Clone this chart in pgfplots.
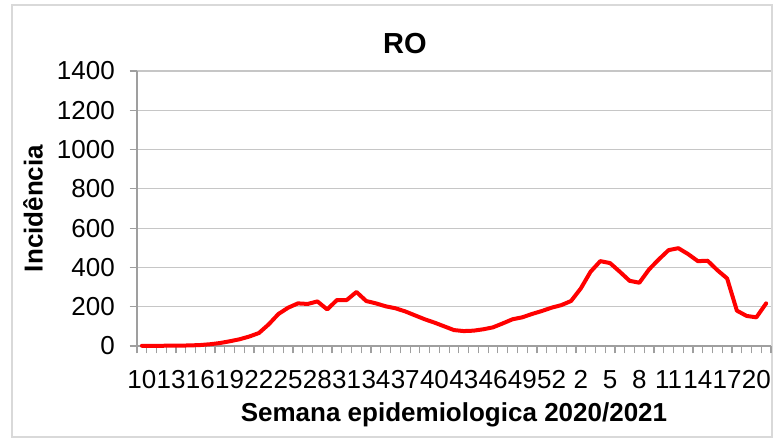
\documentclass[border=0pt]{standalone}
\usepackage{fontspec}
\setmainfont{Liberation Sans}
\usepackage{pgfplots}
\pgfplotsset{compat=1.18}
\begin{document}
\begin{tikzpicture}
\path (-102.75pt,-71.25pt) rectangle (477.75pt,259.5pt);
\draw[gray!30, line width=1.5pt] (-93.75pt,-68.25pt) rectangle (476.25pt,255.75pt);
\begin{axis}[
  at={(0,0)}, anchor=south west,
  scale only axis, width=475.5pt, height=206.25pt,
  xmin=-0.5, xmax=64.5, ymin=0, ymax=1400,
  axis x line*=bottom, axis y line*=left,
  axis line style={draw=gray!75, line width=0.9pt, -},
  tick align=outside,
  major tick length=5.5pt,
  minor tick length=5.5pt,
  tick style={draw=gray!75, line width=0.9pt},
  ytick={0,200,...,1400},
  ymajorgrids,
  grid style={draw=gray!45, line width=0.9pt},
  xtick={0,3,...,63},
  xticklabels={10,13,16,19,22,25,28,31,34,37,40,43,46,49,52,2,5,8,11,14,17,20},
  minor xtick={-0.5,0.5,...,64.5},
  every major x tick/.style={draw=none},
  /pgf/number format/assume math mode=true,
  /pgf/number format/1000 sep={},
  ticklabel style={font=\fontsize{19.5}{22}\selectfont},
  xticklabel style={anchor=north, inner sep=0pt, yshift=-12.5pt},
  yticklabel style={anchor=east, inner sep=0pt, xshift=-11pt},
  title={RO},
  title style={at={(0.4227,1.072)}, anchor=center, font=\fontsize{21.75}{24}\selectfont\bfseries},
  xlabel={Semana epidemiologica 2020/2021},
  ylabel={Incidência},
  xlabel style={at={(0.5,-0.251)}, anchor=center, font=\fontsize{19.5}{22}\selectfont\bfseries},
  ylabel style={at={(-0.164,0.5)}, anchor=center, font=\fontsize{19.5}{22}\selectfont\bfseries},
  clip=false,
]
\addplot[red, line width=3pt, line join=round, line cap=round] coordinates {
(0,1) (1,1) (2,1) (3,2) (4,2) (5,3) (6,5) (7,9) (8,15) (9,24)
(10,34) (11,48) (12,66) (13,110) (14,163) (15,195) (16,217) (17,214) (18,227) (19,186)
(20,234) (21,234) (22,275) (23,229) (24,217) (25,202) (26,192) (27,176) (28,156) (29,136)
(30,119) (31,100) (32,81) (33,76) (34,78) (35,85) (36,95) (37,115) (38,136) (39,146)
(40,163) (41,178) (42,195) (43,208) (44,229) (45,293) (46,378) (47,432) (48,422) (49,378)
(50,332) (51,322) (52,390) (53,441) (54,488) (55,498) (56,468) (57,432) (58,434) (59,386)
(60,344) (61,180) (62,153) (63,146) (64,217)
};
\end{axis}
\end{tikzpicture}
\end{document}
